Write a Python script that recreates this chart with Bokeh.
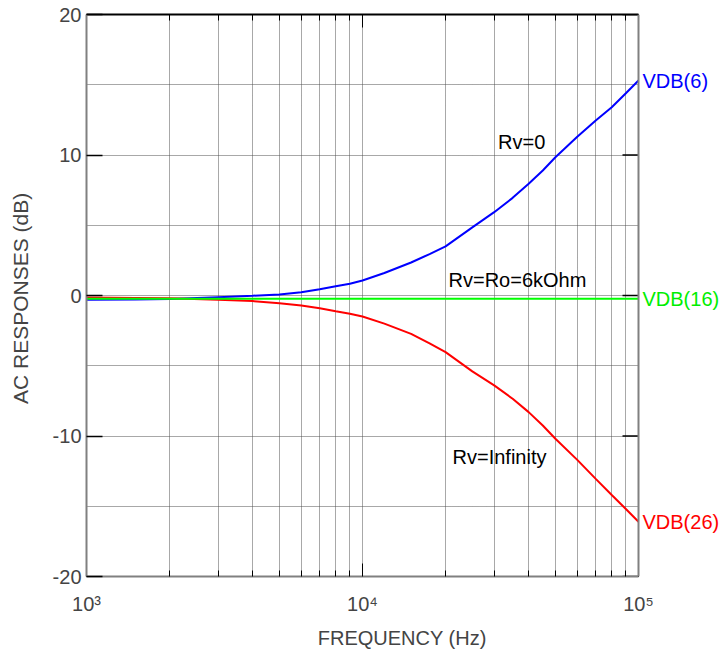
import math
from bokeh.plotting import figure
from bokeh.models import FixedTicker, LogAxis, Label, Range1d, Span, BoxAnnotation
from bokeh.embed import file_html
from bokeh.resources import INLINE

# ---- data ----
freq = [1000, 1500, 2000, 3000, 4000, 5000, 6000, 7000, 8000, 9000, 10000, 12000,
        15000, 17500, 20000, 25000, 30000, 35000, 40000, 45000, 50000, 60000, 70000,
        80000, 90000, 100000]
vdb6 = [-0.3, -0.28, -0.25, -0.12, -0.02, 0.07, 0.23, 0.45, 0.66, 0.83, 1.07, 1.6,
        2.35, 2.95, 3.5, 4.85, 5.93, 6.95, 7.95, 8.9, 9.84, 11.3, 12.46,
        13.4, 14.4, 15.3]
vdb16 = [-0.24] * len(freq)
vdb26 = [-0.15, -0.17, -0.2, -0.3, -0.4, -0.55, -0.71, -0.9, -1.12, -1.3, -1.5, -2.0,
         -2.73, -3.4, -4.03, -5.4, -6.4, -7.35, -8.3, -9.25, -10.2, -11.7, -13.05,
         -14.2, -15.2, -16.1]

x_decades = [1000, 10000, 100000]
x_labels = ["10\u00b3", "10\u2074", "10\u2075"]
x_minor = [m * d for d in (1000, 10000) for m in range(2, 10)]
y_major = [-20, -10, 0, 10, 20]
y_labels = ["-20", "-10", "0", "10", "20"]
y_grid = [-20, -15, -10, -5, 0, 5, 10, 15, 20]

FONT = "Liberation Sans"

# layout: plot box 552 px wide starting at 86 px; the frame runs on to the right
# canvas edge so the end labels are not clipped.
W, H, LEFT, TOP, BOTTOM, BOX_W = 723, 654, 86, 14, 78, 552
x_lo, x_hi = x_decades[0], x_decades[-1]
decades = math.log10(x_hi) - math.log10(x_lo)
x_end = 10 ** (math.log10(x_lo) + decades * (W - LEFT) / BOX_W)

p = figure(width=W, height=H, x_axis_type="log",
           x_range=Range1d(x_lo, x_end), y_range=Range1d(-20, 20),
           output_backend="svg", toolbar_location=None,
           min_border_left=LEFT, min_border_right=0,
           min_border_top=TOP, min_border_bottom=BOTTOM)
p.outline_line_color = None
p.background_fill_color = "white"
p.border_fill_color = "white"

# grids
p.xgrid.ticker = FixedTicker(ticks=x_decades + x_minor)
p.ygrid.ticker = FixedTicker(ticks=y_grid)
for g in (p.xgrid, p.ygrid):
    g.grid_line_color = "#505050"
    g.grid_line_dash = "1 1"
    g.grid_line_width = 1

# blank out the strip right of the plot box (where the end labels sit)
p.add_layout(BoxAnnotation(left=x_hi, fill_color="white", fill_alpha=1.0,
                           line_color=None, level="underlay"))

# bottom axis
xa = p.xaxis[0]
xa.bounds = (x_lo, x_hi)
xa.ticker = FixedTicker(ticks=x_decades, minor_ticks=x_minor)
xa.major_label_overrides = dict(zip(x_decades, x_labels))
xa.major_tick_in = 13
xa.major_tick_out = 0
xa.minor_tick_in = 6
xa.minor_tick_out = 0
xa.major_tick_line_color = "black"
xa.minor_tick_line_color = "black"
xa.axis_line_color = "#808080"
xa.axis_line_width = 2
xa.major_label_text_font = FONT
xa.major_label_text_font_size = "20px"
xa.major_label_standoff = 16
xa.axis_label = "FREQUENCY  (Hz)"
xa.axis_label_text_font = FONT
xa.axis_label_text_font_size = "20px"
xa.axis_label_text_font_style = "normal"
xa.axis_label_standoff = 9

# left axis
ya = p.yaxis[0]
ya.ticker = FixedTicker(ticks=y_major, minor_ticks=[])
ya.major_label_overrides = dict(zip(y_major, y_labels))
ya.major_tick_in = 16
ya.major_tick_out = 0
ya.minor_tick_line_color = None
ya.major_tick_line_color = "black"
ya.major_tick_line_width = 1.5
ya.axis_line_color = "#808080"
ya.axis_line_width = 2
ya.major_label_text_font = FONT
ya.major_label_text_font_size = "20px"
ya.major_label_standoff = 5
ya.axis_label = "AC RESPONSES  (dB)"
ya.axis_label_text_font = FONT
ya.axis_label_text_font_size = "21px"
ya.axis_label_text_font_style = "normal"
ya.axis_label_standoff = 18

# top axis
ta = LogAxis(ticker=FixedTicker(ticks=x_decades, minor_ticks=x_minor), bounds=(x_lo, x_hi))
ta.major_tick_in = 13
ta.major_tick_out = 0
ta.minor_tick_in = 6
ta.minor_tick_out = 0
ta.major_tick_line_color = "black"
ta.minor_tick_line_color = "black"
ta.axis_line_color = "black"
ta.axis_line_width = 2
ta.major_label_text_font_size = "1px"
ta.major_label_text_color = None
ta.major_label_standoff = 0
p.add_layout(ta, "above")

# right edge of the plot box and its inward ticks
p.add_layout(Span(location=x_hi, dimension="height", line_color="#808080", line_width=2))
p.ray(x=[x_hi] * len(y_major), y=y_major, length=16, length_units="screen",
      angle=math.pi, line_color="black", line_width=1.5)

# curves
p.line(freq, vdb6, line_color="#0000ff", line_width=2)
p.line(freq, vdb26, line_color="#ff0000", line_width=2)
p.line(freq, vdb16, line_color="#00ff00", line_width=2)

# end labels
for series, name, col in ((vdb6, "VDB(6)", "#0000ff"),
                          (vdb16, "VDB(16)", "#00ee00"),
                          (vdb26, "VDB(26)", "#ff0000")):
    p.add_layout(Label(x=freq[-1], y=series[-1], text=name, x_offset=4,
                       text_baseline="middle", text_align="left", text_font=FONT,
                       text_font_size="20px", text_color=col))

# curve annotations
for tx, ty, t in ((31000, 10.96, "Rv=0"), (20500, 1.07, "Rv=Ro=6kOhm"),
                  (21200, -11.46, "Rv=Infinity")):
    p.add_layout(Label(x=tx, y=ty, text=t, text_baseline="middle", text_align="left",
                       text_font=FONT, text_font_size="20px", text_color="black"))

open("out.html", "w").write(file_html(p, INLINE))
